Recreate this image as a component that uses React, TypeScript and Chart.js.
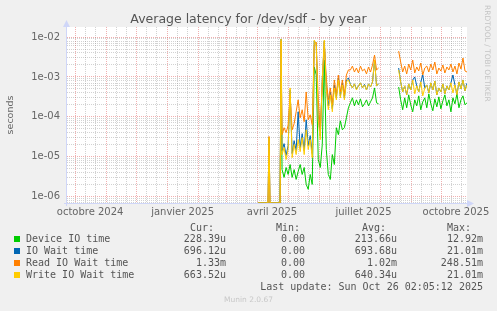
import React, { useEffect, useRef } from 'react';
import { Chart, registerables } from 'chart.js';

Chart.register(...registerables);

// ---------------- data ----------------
// x = days since 2024-09-23 (left edge of the graph), right edge = 2025-10-26
const DAYS: number[] = [
  190, 192, 194, 196, 198, 200, 201, 202, 204, 206, 208, 210, 212, 213,
  214, 216, 218, 220, 222, 224, 226, 228, 230, 232, 234, 236, 238, 240, 242, 244, 246,
  248, 250, 252, 254, 256, 258, 260, 262, 264, 266, 268, 270, 272, 274, 276, 278, 280,
  282, 284, 286, 288, 290, 292, 294, 296, 298, 300, 302, 304, 306, 308, 310,
  320,
  330, 332, 334, 336, 338, 340, 342, 344, 346, 348, 350, 352, 354, 356, 358, 360, 362,
  364, 366, 368, 370, 372, 374, 376, 378, 380, 382, 384, 386, 388, 390, 392, 394, 396, 398,
];

const DEVICE_IO: (number | null)[] = [
  0, 0, 0, 0, 0, 0, 0, 0, 0, 0, 0, 0, 0, 1.0e-3,
  4.7e-6, 2.99e-6, 5.3e-6, 3.55e-6, 6.3e-6, 2.99e-6, 4.7e-6, 2.66e-6, 4.2e-6, 6.3e-6, 3.55e-6,
  5.3e-6, 2.0e-6, 1.5e-6, 3.55e-6, 2.0e-6, 1.78e-3, 1.12e-3, 8.4e-6, 5.3e-6, 2.0e-5, 2.66e-3,
  1.5e-5, 3.55e-6, 2.66e-6, 1.12e-5, 6.3e-6, 5.3e-5, 3.55e-5, 7.9e-5, 4.7e-5, 5.3e-5, 9.4e-5, 1.68e-4,
  2.24e-4, 2.99e-4, 1.88e-4, 2.66e-4, 2.0e-4, 2.82e-4, 1.78e-4, 2.11e-4, 2.66e-4, 1.88e-4, 2.37e-4,
  2.99e-4, 5.3e-4, 2.24e-4, 2.11e-4,
  null,
  5.6e-4, 2.66e-4, 1.5e-4, 2.99e-4, 1.68e-4, 3.55e-4, 2.0e-4, 1.33e-4, 2.66e-4, 1.88e-4, 3.35e-4,
  1.5e-4, 2.37e-4, 2.99e-4, 1.68e-4, 3.76e-4, 2.11e-4, 1.41e-4, 2.82e-4, 1.78e-4, 3.16e-4, 1.58e-4,
  2.51e-4, 3.55e-4, 1.88e-4, 2.66e-4, 1.33e-4, 2.99e-4, 2.11e-4, 3.76e-4, 1.68e-4, 2.66e-4, 3.35e-4,
  2.0e-4, 2.24e-4,
];

const IO_WAIT: (number | null)[] = [
  0, 0, 0, 0, 0, 0, 3.0e-5, 0, 0, 0, 0, 0, 0, 9.0e-3,
  1.41e-5, 2.11e-5, 1.06e-5, 1.88e-5, 4.7e-4, 1.19e-5, 2.51e-5, 1.41e-5, 1.33e-4, 1.68e-5, 3.76e-5,
  1.41e-5, 8.4e-5, 1.88e-5, 3.35e-5, 1.19e-5, 7.9e-3, 6.7e-3, 1.12e-4, 3.35e-5, 8.4e-4, 7.9e-3,
  5.96e-4, 1.88e-4, 4.2e-4, 1.58e-4, 6.3e-4, 2.99e-4, 9.4e-4, 3.35e-4, 7.1e-4, 2.99e-4, 8.4e-4, 9.4e-4,
  6.5e-4, 5.3e-4, 6.7e-4, 5.0e-4, 5.96e-4, 7.1e-4, 5.3e-4, 6.5e-4, 4.7e-4, 6.7e-4, 5.6e-4,
  7.5e-4, 2.66e-3, 6.0e-4, 6.7e-4,
  null,
  1.68e-3, 7.5e-4, 4.2e-4, 5.96e-4, 3.55e-4, 6.7e-4, 4.7e-4, 8.4e-4, 1.0e-3, 5.96e-4, 4.2e-4,
  7.5e-4, 1.12e-3, 5.3e-4, 6.3e-4, 3.98e-4, 7.1e-4, 4.7e-4, 7.9e-4, 3.55e-4, 5.3e-4, 4.2e-4,
  6.7e-4, 3.76e-4, 5.96e-4, 4.7e-4, 7.1e-4, 1.12e-3, 6.3e-4, 3.55e-4, 7.5e-4, 5.0e-4, 8.4e-4,
  4.47e-4, 7.0e-4,
];

const READ_WAIT: (number | null)[] = [
  0, 0, 0, 0, 0, 0, 3.2e-5, 0, 0, 0, 0, 0, 0, 8.0e-3,
  3.55e-5, 5.3e-5, 4.0e-5, 6.0e-5, 3.55e-4, 4.7e-5, 6.7e-5, 1.33e-4, 2.66e-4, 9.4e-5, 1.5e-4,
  7.5e-5, 4.2e-4, 8.4e-5, 1.12e-4, 6.3e-5, 6.3e-3, 7.5e-3, 2.66e-4, 4.7e-5, 6.0e-4, 7.5e-3,
  9.4e-4, 2.66e-4, 5.3e-4, 2.0e-4, 8.4e-4, 3.55e-4, 1.12e-3, 4.2e-4, 8.4e-4, 3.55e-4, 1.12e-3, 1.5e-3,
  1.5e-3, 1.88e-3, 1.33e-3, 1.68e-3, 1.26e-3, 1.88e-3, 1.41e-3, 1.58e-3, 1.19e-3, 1.78e-3, 1.33e-3,
  2.0e-3, 3.55e-3, 1.5e-3, 1.68e-3,
  null,
  4.47e-3, 2.37e-3, 1.33e-3, 1.88e-3, 1.19e-3, 2.11e-3, 1.5e-3, 2.66e-3, 1.26e-3, 1.78e-3, 1.41e-3,
  2.24e-3, 1.12e-3, 1.68e-3, 1.88e-3, 1.33e-3, 2.11e-3, 1.5e-3, 2.37e-3, 1.19e-3, 1.68e-3, 1.41e-3,
  2.0e-3, 1.26e-3, 1.78e-3, 1.5e-3, 2.11e-3, 1.33e-3, 1.88e-3, 1.19e-3, 2.24e-3, 1.58e-3, 2.99e-3,
  1.41e-3, 1.33e-3,
];

const WRITE_WAIT: (number | null)[] = [
  0, 0, 0, 0, 0, 0, 3.0e-5, 0, 0, 0, 0, 0, 0, 9.0e-3,
  1.12e-5, 1.68e-5, 8.4e-6, 1.5e-5, 5.3e-4, 9.4e-6, 2.0e-5, 1.12e-5, 2.66e-5, 1.33e-5, 2.99e-5,
  1.12e-5, 4.7e-5, 1.5e-5, 2.66e-5, 9.4e-6, 8.4e-3, 6.3e-3, 8.4e-5, 2.66e-5, 9.4e-4, 8.4e-3,
  4.7e-4, 1.5e-4, 3.55e-4, 1.33e-4, 5.3e-4, 2.66e-4, 8.4e-4, 2.99e-4, 6.3e-4, 2.66e-4, 7.5e-4, 8.4e-4,
  6.3e-4, 5.3e-4, 6.7e-4, 4.7e-4, 5.96e-4, 7.1e-4, 5.3e-4, 6.3e-4, 4.7e-4, 6.7e-4, 5.6e-4,
  7.5e-4, 2.66e-3, 5.96e-4, 6.7e-4,
  null,
  1.5e-3, 7.5e-4, 4.2e-4, 5.96e-4, 3.55e-4, 6.7e-4, 4.7e-4, 8.4e-4, 3.76e-4, 5.96e-4, 4.2e-4,
  7.5e-4, 3.35e-4, 5.3e-4, 6.3e-4, 3.98e-4, 7.1e-4, 4.7e-4, 7.9e-4, 3.55e-4, 5.3e-4, 4.2e-4,
  6.7e-4, 3.76e-4, 5.96e-4, 4.7e-4, 7.1e-4, 3.98e-4, 6.3e-4, 3.55e-4, 7.5e-4, 5.0e-4, 8.4e-4,
  4.47e-4, 6.3e-4,
];

const SERIES_NAMES = ['Device IO time', 'IO Wait time', 'Read IO Wait time', 'Write IO Wait time'];
const SERIES_COLORS = ['#00CC00', '#0066B3', '#FF8000', '#FFCC00'];
const CUR = ['228.39u', '696.12u', '1.33m', '663.52u'];
const MIN = ['0.00', '0.00', '0.00', '0.00'];
const AVG = ['213.66u', '693.68u', '1.02m', '640.34u'];
const MAX = ['12.92m', '21.01m', '248.51m', '21.01m'];

const X_START = 0;
const X_END = 398;
const MONTH_START_DAYS = [8, 39, 69, 100, 131, 159, 190, 220, 251, 281, 312, 343, 373];
const MINOR_GRID_DAYS = [18, 28, 49, 59, 79, 89, 110, 120, 141, 151, 169, 179, 200, 210, 230, 240, 261, 271, 291, 301, 322, 332, 353, 363, 383, 393];
const X_LABEL_DAYS = [23, 115, 204, 295, 387];
const X_TICK_LABELS = ['octobre 2024', 'janvier 2025', 'avril 2025', 'juillet 2025', 'octobre 2025'];

const Y_MIN = 6.8e-7;
const Y_MAX = 1.8e-2;
const Y_DECADES = [1e-7, 1e-6, 1e-5, 1e-4, 1e-3, 1e-2];
const Y_TICK_LABELS = ['1e-07', '1e-06', '1e-05', '1e-04', '1e-03', '1e-02'];

const TITLE = 'Average latency for /dev/sdf - by year';
const Y_TITLE = 'seconds';
const LAST_UPDATE = 'Last update: Sun Oct 26 02:05:12 2025';
const FOOTER = 'Munin 2.0.67';
const WATERMARK = 'RRDTOOL / TOBI OETIKER';

const FONT_COLOR = '#666666';
const AXIS_COLOR = '#CFD6F8';
const MAJOR_GRID = 'rgba(222,79,79,0.45)';
const MINOR_GRID = 'rgba(143,143,143,0.4)';

const decadeIndex = (v: number) =>
  Y_DECADES.findIndex((d) => Math.abs(v - d) / d < 1e-6);

const Y_GRID_VALUES: number[] = [];
Y_DECADES.forEach((d) => {
  for (let m = 1; m <= 9; m++) {
    const v = m * d;
    if (v >= Y_MIN && v <= Y_MAX) Y_GRID_VALUES.push(m === 1 ? d : v);
  }
});

const decoPlugin = {
  id: 'deco',
  beforeDraw(chart: any) {
    const { ctx, chartArea: a } = chart;
    ctx.save();
    ctx.fillStyle = '#FFFFFF';
    ctx.fillRect(a.left, a.top, a.right - a.left, a.bottom - a.top);
    ctx.restore();
  },
  afterDraw(chart: any) {
    const { ctx, chartArea: a } = chart;
    ctx.save();
    ctx.fillStyle = AXIS_COLOR;
    ctx.strokeStyle = AXIS_COLOR;
    ctx.lineWidth = 1;
    // y axis extension + arrow
    ctx.beginPath();
    ctx.moveTo(a.left - 0.5, a.bottom + 3);
    ctx.lineTo(a.left - 0.5, a.top - 2);
    ctx.stroke();
    ctx.beginPath();
    ctx.moveTo(a.left - 0.5, a.top - 7);
    ctx.lineTo(a.left - 4, a.top);
    ctx.lineTo(a.left + 3, a.top);
    ctx.closePath();
    ctx.fill();
    // x axis extension + arrow
    ctx.beginPath();
    ctx.moveTo(a.left - 3, a.bottom + 0.5);
    ctx.lineTo(a.right + 2, a.bottom + 0.5);
    ctx.stroke();
    ctx.beginPath();
    ctx.moveTo(a.right + 7, a.bottom + 0.5);
    ctx.lineTo(a.right, a.bottom - 3);
    ctx.lineTo(a.right, a.bottom + 4);
    ctx.closePath();
    ctx.fill();
    ctx.restore();
  },
};

const zeroPad = (s: any) => {
  s.paddingLeft = 0;
  s.paddingRight = 0;
  s.paddingTop = 0;
  s.paddingBottom = 0;
};

export default function App() {
  const canvasRef = useRef<HTMLCanvasElement | null>(null);

  useEffect(() => {
    if (!canvasRef.current) return;
    const series = [DEVICE_IO, IO_WAIT, READ_WAIT, WRITE_WAIT];
    const chart = new Chart(canvasRef.current, {
      type: 'line',
      data: {
        datasets: series.map((vals, i) => ({
          label: SERIES_NAMES[i],
          data: DAYS.map((d, j) => ({
            x: d,
            y: vals[j] === null ? null : vals[j] === 0 ? Y_MIN : vals[j],
          })),
          borderColor: SERIES_COLORS[i],
          backgroundColor: SERIES_COLORS[i],
          borderWidth: 1,
          pointRadius: 0,
          pointHoverRadius: 0,
          tension: 0,
          spanGaps: false,
          fill: false,
          order: series.length - i,
          xAxisID: 'x',
          yAxisID: 'y',
        })) as any,
      },
      options: {
        animation: false,
        responsive: false,
        events: [],
        layout: { padding: { top: 27, right: 30, bottom: 88, left: 0 } },
        plugins: {
          legend: { display: false },
          tooltip: { enabled: false },
          title: { display: false },
        },
        scales: {
          x: {
            type: 'linear',
            position: 'bottom',
            min: X_START,
            max: X_END,
            afterBuildTicks: (s: any) => {
              s.ticks = X_LABEL_DAYS.map((v) => ({ value: v }));
            },
            afterFit: (s: any) => {
              s.height = 20;
              zeroPad(s);
            },
            ticks: {
              autoSkip: false,
              maxRotation: 0,
              minRotation: 0,
              padding: 3,
              color: FONT_COLOR,
              font: { family: 'DejaVu Sans', size: 10 },
              callback: (_v: any, i: number) => X_TICK_LABELS[i] ?? '',
            },
            grid: { display: false, drawTicks: false },
            border: { display: false },
          },
          xMonth: {
            type: 'linear',
            position: 'bottom',
            min: X_START,
            max: X_END,
            afterBuildTicks: (s: any) => {
              s.ticks = MONTH_START_DAYS.map((v) => ({ value: v }));
            },
            afterFit: (s: any) => {
              s.height = 0;
              zeroPad(s);
            },
            ticks: { display: false, autoSkip: false },
            grid: { color: MAJOR_GRID, lineWidth: 1, drawTicks: false },
            border: { display: false, dash: [1, 1] },
          },
          xMinor: {
            type: 'linear',
            position: 'bottom',
            min: X_START,
            max: X_END,
            afterBuildTicks: (s: any) => {
              s.ticks = MINOR_GRID_DAYS.map((v) => ({ value: v }));
            },
            afterFit: (s: any) => {
              s.height = 0;
              zeroPad(s);
            },
            ticks: { display: false, autoSkip: false },
            grid: { color: MINOR_GRID, lineWidth: 1, drawTicks: false },
            border: { display: false, dash: [1, 1] },
          },
          y: {
            type: 'logarithmic',
            position: 'left',
            min: Y_MIN,
            max: Y_MAX,
            afterBuildTicks: (s: any) => {
              s.ticks = Y_GRID_VALUES.map((v) => ({ value: v }));
            },
            afterFit: (s: any) => {
              s.width = 67;
              zeroPad(s);
            },
            ticks: {
              autoSkip: false,
              padding: 7,
              color: FONT_COLOR,
              font: { family: 'DejaVu Sans', size: 10 },
              callback: (v: any) => {
                const k = decadeIndex(Number(v));
                return k >= 0 ? Y_TICK_LABELS[k] : '';
              },
            },
            grid: {
              drawTicks: false,
              lineWidth: 1,
              color: (ctx: any) =>
                ctx.tick && decadeIndex(ctx.tick.value) >= 0 ? MAJOR_GRID : MINOR_GRID,
            },
            border: { display: false, dash: [1, 1] },
            title: {
              display: true,
              text: Y_TITLE,
              color: FONT_COLOR,
              font: { family: 'DejaVu Sans', size: 9.5 },
              padding: { top: 5, bottom: 0 },
            },
          },
        } as any,
      },
      plugins: [decoPlugin],
    });
    return () => chart.destroy();
  }, []);

  const mono: React.CSSProperties = {
    position: 'absolute',
    fontFamily: '"DejaVu Sans Mono", monospace',
    fontSize: 10,
    lineHeight: '12px',
    color: '#555555',
    whiteSpace: 'pre',
  };
  const rowTop = (i: number) => 233 + i * 12;
  const rightCol = (text: string, right: number, top: number, key: string) => (
    <div key={key} style={{ ...mono, top, right: 497 - right, textAlign: 'right' }}>
      {text}
    </div>
  );

  return (
    <div
      style={{
        position: 'fixed',
        left: 0,
        top: 0,
        width: 497,
        height: 311,
        background: '#F0F0F0',
        overflow: 'hidden',
      }}
    >
      <canvas
        ref={canvasRef}
        width={497}
        height={311}
        style={{ position: 'absolute', left: 0, top: 0, width: 497, height: 311 }}
      />
      <div
        style={{
          position: 'absolute',
          left: 0,
          top: 11,
          width: 497,
          textAlign: 'center',
          fontFamily: '"DejaVu Sans", sans-serif',
          fontSize: 12.5,
          lineHeight: '15px',
          color: '#555555',
          whiteSpace: 'pre',
        }}
      >
        {TITLE}
      </div>
      <div
        style={{
          position: 'absolute',
          left: 483,
          top: 5,
          writingMode: 'vertical-rl',
          fontFamily: '"DejaVu Sans", sans-serif',
          fontSize: 7.5,
          lineHeight: '9px',
          color: '#C4C4C4',
          whiteSpace: 'pre',
        }}
      >
        {WATERMARK}
      </div>
      <div style={{ ...mono, top: 222, left: 190 }}>Cur:</div>
      <div style={{ ...mono, top: 222, left: 276 }}>Min:</div>
      <div style={{ ...mono, top: 222, left: 362 }}>Avg:</div>
      <div style={{ ...mono, top: 222, left: 447 }}>Max:</div>
      {SERIES_NAMES.map((name, i) => (
        <React.Fragment key={name}>
          <div
            style={{
              position: 'absolute',
              left: 14,
              top: rowTop(i) + 3,
              width: 6,
              height: 6,
              background: SERIES_COLORS[i],
            }}
          />
          <div style={{ ...mono, top: rowTop(i), left: 26 }}>{name}</div>
          {rightCol(CUR[i], 226, rowTop(i), 'c' + i)}
          {rightCol(MIN[i], 305, rowTop(i), 'n' + i)}
          {rightCol(AVG[i], 397, rowTop(i), 'a' + i)}
          {rightCol(MAX[i], 483, rowTop(i), 'm' + i)}
        </React.Fragment>
      ))}
      {rightCol(LAST_UPDATE, 483, 281, 'lu')}
      <div
        style={{
          position: 'absolute',
          left: 0,
          top: 295,
          width: 497,
          textAlign: 'center',
          fontFamily: '"DejaVu Sans", sans-serif',
          fontSize: 7.5,
          lineHeight: '9px',
          color: '#C8C8C8',
        }}
      >
        {FOOTER}
      </div>
    </div>
  );
}
